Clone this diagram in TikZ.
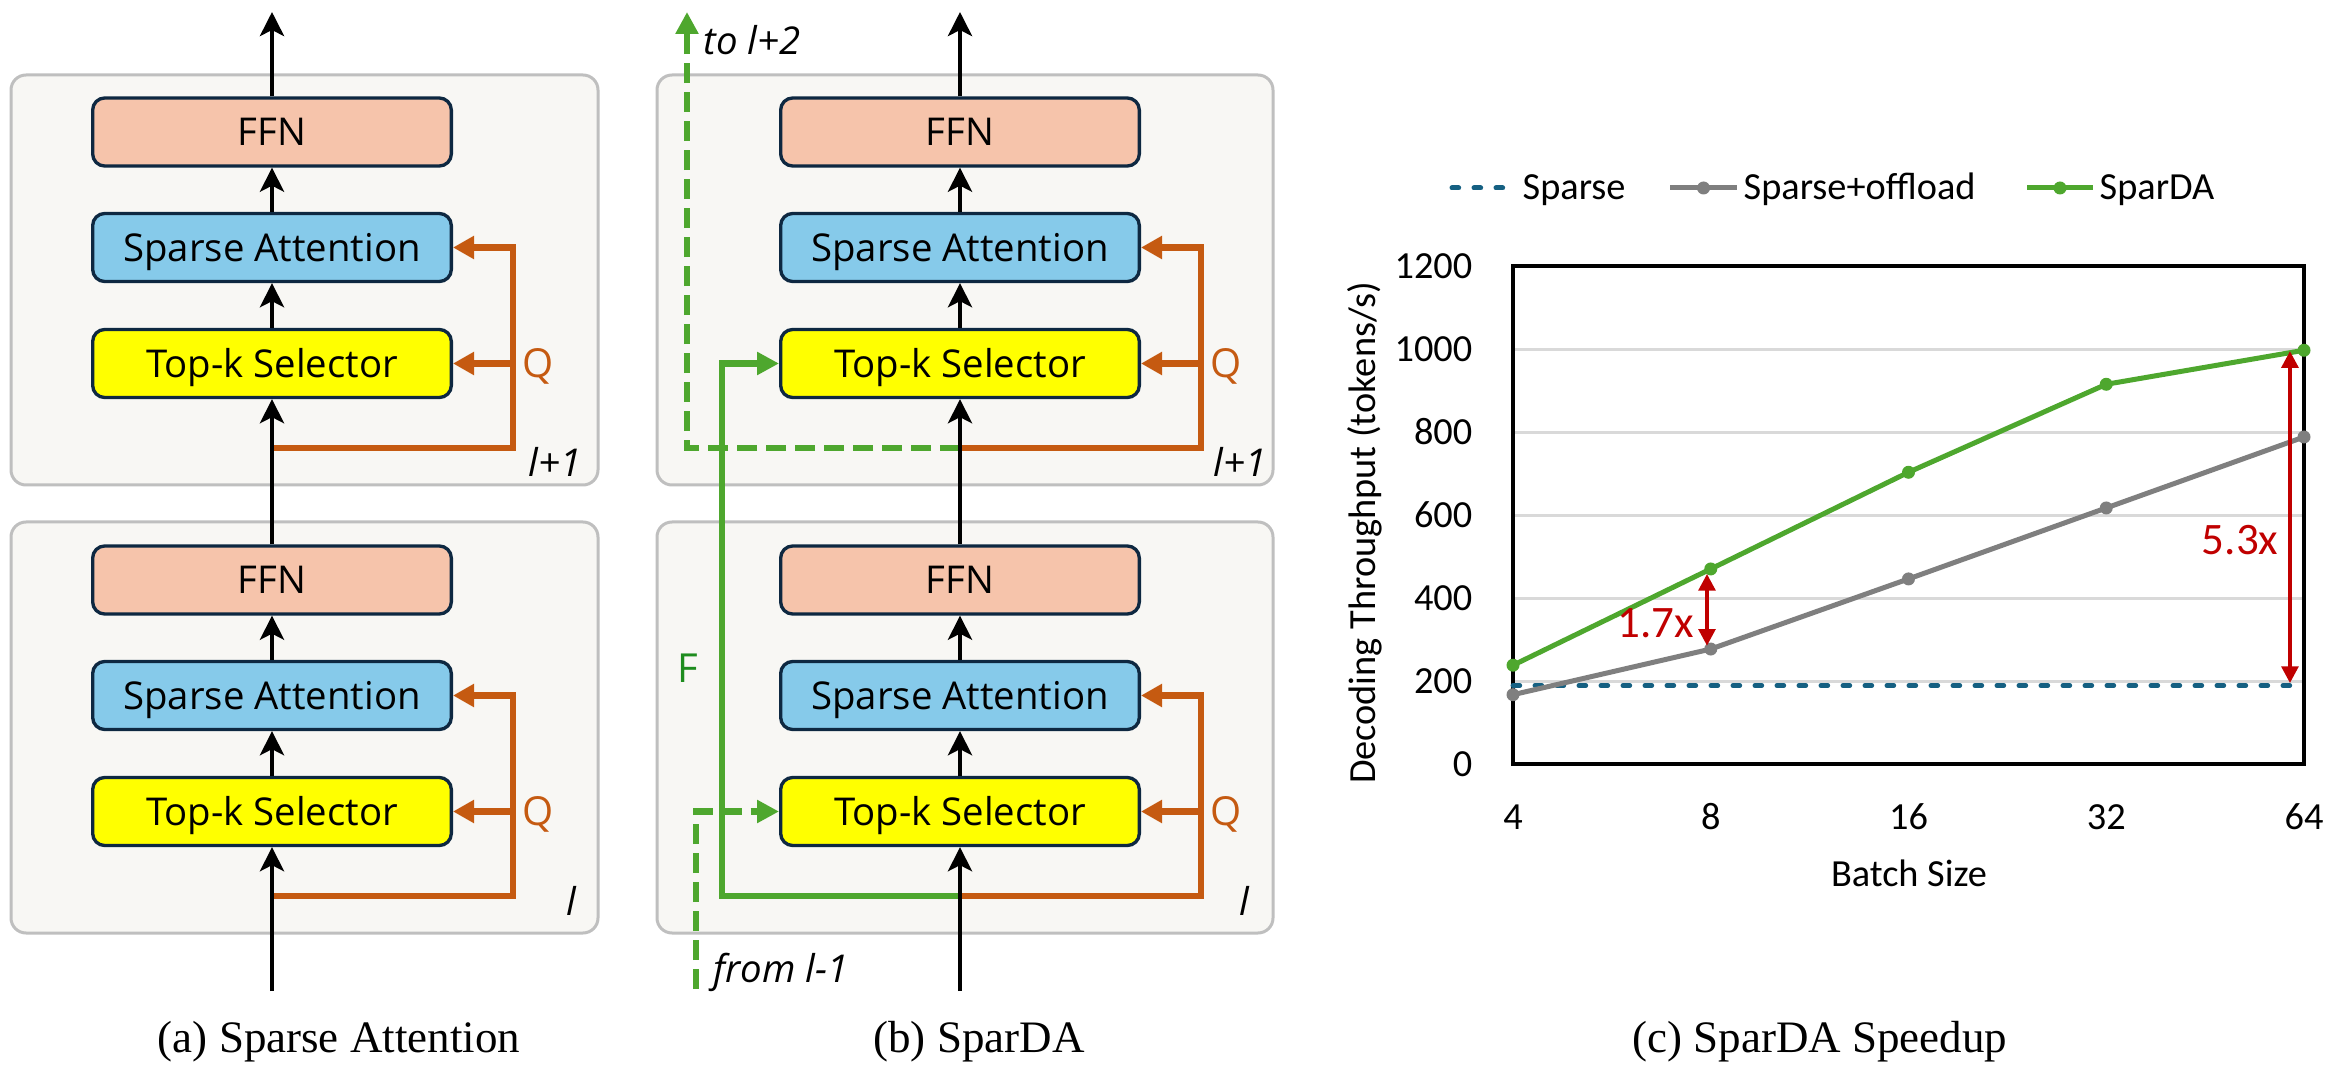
\documentclass[tikz,border=0pt]{standalone}
\usepackage{fontspec}
\setmainfont{Liberation Serif}
\newfontfamily\boxfnt{Open Sans}
\newfontfamily\chfnt{Carlito}
\usetikzlibrary{arrows.meta,calc}

\definecolor{ffnc}{HTML}{F6C4AB}
\definecolor{sac}{HTML}{86CAEA}
\definecolor{tkc}{HTML}{FFFF00}
\definecolor{bordc}{HTML}{0E2841}
\definecolor{qc}{HTML}{C55A11}
\definecolor{gc}{HTML}{4EA72E}
\definecolor{fc}{HTML}{1E8C1E}
\definecolor{panf}{HTML}{F8F7F4}
\definecolor{panb}{HTML}{BFBFBF}
\definecolor{grayl}{HTML}{7F7F7F}
\definecolor{bluel}{HTML}{156082}
\definecolor{redc}{HTML}{C00000}
\definecolor{gridc}{HTML}{D9D9D9}

\tikzset{
  blk/.style={rectangle, rounded corners=3.6pt, draw=bordc, line width=1pt,
    minimum width=107.6pt, minimum height=20.4pt, inner sep=0pt,
    font=\boxfnt\fontsize{11.5}{13}\selectfont, text height=8.2pt, text depth=0pt},
  ffnbox/.style={blk, fill=ffnc},
  sabox/.style={blk, fill=sac},
  tkbox/.style={blk, fill=tkc},
  panel/.style={draw=panb, fill=panf, line width=0.9pt, rounded corners=4.5pt},
  flow/.style={line width=1.4pt, -{Stealth[length=7.2pt,width=7.2pt,inset=1.8pt]}},
  qline/.style={draw=qc, line width=2pt},
  qarr/.style={qline, -{Triangle[length=6.3pt,width=6.6pt]}},
  gline/.style={draw=gc, line width=2pt},
  garr/.style={gline, -{Triangle[length=6.6pt,width=6.6pt]}},
  gdash/.style={dash pattern=on 6pt off 2.7pt},
  qlab/.style={text=qc, font=\boxfnt\fontsize{12}{14}\selectfont, text height=8.6pt, text depth=0pt, inner sep=0pt},
  lyr/.style={font=\boxfnt\itshape\fontsize{11.5}{13}\selectfont, inner sep=0pt},
  captxt/.style={font=\fontsize{13.5}{16}\selectfont, inner sep=0pt, anchor=base},
  chtxt/.style={font=\chfnt\fontsize{11.5}{13}\selectfont, inner sep=0pt},
  redtxt/.style={font=\chfnt\fontsize{13.5}{15}\selectfont, inner sep=0pt, text=redc},
  dline/.style={line width=1.5pt},
  sdash/.style={draw=bluel, line width=1.5pt, line cap=round, dash pattern=on 2pt off 4.6pt},
  mk/.style={radius=1.95pt},
  redarr/.style={draw=redc, line width=1.1pt, {Triangle[length=5pt,width=5pt]}-{Triangle[length=5pt,width=5pt]}}
}

\begin{document}
\begin{tikzpicture}[x=0.3pt,y=-0.3pt]
\useasboundingbox (0,0) rectangle (2329,1072);

% ---------- panels ----------
\foreach \p/\pl/\pr in {a/11/598, b/657/1273} {
  \draw[panel] (\pl,75) rectangle (\pr,485);
  \draw[panel] (\pl,522) rectangle (\pr,933);
}

% ---------- blocks ----------
\foreach \p/\cx in {a/272, b/960} {
  \foreach \L/\dy in {1/0, 0/448} {
    \node[ffnbox] (\p F\L) at (\cx,132+\dy) {FFN};
    \node[sabox]  (\p S\L) at (\cx,247.5+\dy) {Sparse Attention};
    \node[tkbox]  (\p T\L) at (\cx,363.5+\dy) {Top-k Selector};
  }
  \coordinate (\p top) at (\cx,12);
  \coordinate (\p bot) at (\cx,991);
}

% ---------- Q feedback (orange) ----------
\foreach \p/\cx/\qx in {a/272/513, b/960/1201} {
  \foreach \L/\dy in {1/0, 0/448} {
    \coordinate (\p J\L) at (\cx,448+\dy);
    \coordinate (\p Q\L) at (\qx,448+\dy);
    \draw[qarr] (\p J\L) -- (\p Q\L) |- (\p S\L.east);
    \draw[qarr] (\p Q\L |- \p T\L.east) -- (\p T\L.east);
    \node[qlab] (\p q\L) at ($(\p Q\L |- \p T\L.east)+(25,0)$) {Q};
  }
}

% ---------- layer labels ----------
\node[lyr, anchor=base east] (al1) at (582,477) {l+1};
\node[lyr, anchor=base east] (al0) at (577,915) {l};
\node[lyr, anchor=base east] (bl1) at (1267,477) {l+1};
\node[lyr, anchor=base east] (bl0) at (1250,915) {l};

% ---------- green paths (panel b) ----------
\coordinate (gTop) at (687,12);
\coordinate (gF) at (722,896);
\coordinate (gB) at (696,989);
\draw[gline, gdash, -{Triangle[length=6.6pt,width=6.6pt]}] (bJ1) -| (gTop);
\draw[garr] (bJ0) -- (gF) |- (bT1.west);
\draw[gline, gdash, -{Triangle[length=6.6pt,width=6.6pt]}] (gB) |- (bT0.west);
\node[lyr, anchor=base west] (tol) at (703,55) {to l+2};
\node[lyr, anchor=base west] (froml) at (713,982) {from l-1};
\node[qlab, text=fc] (Flab) at (688,668) {F};

% ---------- main flow (black) ----------
\foreach \p in {a,b} {
  \draw[flow] (\p F1.north) -- (\p top);
  \draw[flow] (\p S1.north) -- (\p F1.south);
  \draw[flow] (\p T1.north) -- (\p S1.south);
  \draw[flow] (\p F0.north) -- (\p T1.south);
  \draw[flow] (\p S0.north) -- (\p F0.south);
  \draw[flow] (\p T0.north) -- (\p S0.south);
  \draw[flow] (\p bot) -- (\p T0.south);
}

% ---------- captions ----------
\node[captxt] (capa) at (339,1052) {(a) Sparse Attention};
\node[captxt] (capb) at (979,1052) {(b) SparDA};
\node[captxt] (capc) at (1820,1052) {(c) SparDA Speedup};

% ---------- chart ----------
\begin{scope}[shift={(1513,764)}, x=59.325pt, y=0.1245pt]
  \foreach \v in {200,400,...,1000}
    \draw[gridc, line width=0.9pt] (0,\v) -- (4,\v);
  \draw[black, line width=1pt] (0,0) rectangle (4,1200);
  \foreach \v in {0,200,...,1200}
    \node[chtxt, anchor=east] (yt\v) at ([xshift=-12pt]0,\v) {\v};
  \foreach \i/\t in {0/4,1/8,2/16,3/32,4/64}
    \node[chtxt] (xt\t) at ([yshift=-15.9pt]\i,0) {\t};

  % Sparse baseline
  \coordinate (b0) at (0,189);
  \coordinate (b1) at (3.955,189);
  \draw[sdash] (b0) -- (b1);

  % Sparse+offload
  \foreach \i/\v in {0/167,1/277,2/446,3/617,4/788}
    \coordinate (s\i) at (\i,\v);
  \draw[grayl, dline] (s0) -- (s1) -- (s2) -- (s3) -- (s4);
  \foreach \i in {0,...,4} \fill[grayl] (s\i) circle[mk];

  % SparDA
  \foreach \i/\v in {0/238,1/470,2/703,3/915,4/997}
    \coordinate (g\i) at (\i,\v);
  \draw[gc, dline] (g0) -- (g1) -- (g2) -- (g3) -- (g4);
  \foreach \i in {0,...,4} \fill[gc] (g\i) circle[mk];

  % speedup arrows
  \coordinate (r1t) at (0.981,458);
  \coordinate (r1b) at (0.981,285);
  \coordinate (r2t) at (3.929,995);
  \coordinate (r2b) at (3.929,195);
  \draw[redarr] (r1t) -- (r1b);
  \draw[redarr] (r2t) -- (r2b);
  \node[redtxt, anchor=east] (sp1) at (0.920,340) {1.7x};
  \node[redtxt, anchor=east] (sp2) at (3.874,540) {5.3x};
\end{scope}

\node[chtxt, rotate=90] (ylab) at (1365,533) {Decoding Throughput (tokens/s)};
\node[chtxt] (xlab) at (1909,873) {Batch Size};

% legend
\coordinate (lg1a) at (1452,188); \coordinate (lg1b) at (1506,188);
\draw[sdash] (lg1a) -- (lg1b);
\node[chtxt, anchor=base west] (lgt1) at (1522,200) {Sparse};
\coordinate (lg2a) at (1670,188); \coordinate (lg2b) at (1737,188);
\draw[grayl, dline] (lg2a) -- (lg2b);
\fill[grayl] ($(lg2a)!0.5!(lg2b)$) circle[mk];
\node[chtxt, anchor=base west] (lgt2) at (1743,200) {Sparse+offload};
\coordinate (lg3a) at (2027,188); \coordinate (lg3b) at (2093,188);
\draw[gc, dline] (lg3a) -- (lg3b);
\fill[gc] ($(lg3a)!0.5!(lg3b)$) circle[mk];
\node[chtxt, anchor=base west] (lgt3) at (2099,200) {SparDA};
\end{tikzpicture}
\end{document}
